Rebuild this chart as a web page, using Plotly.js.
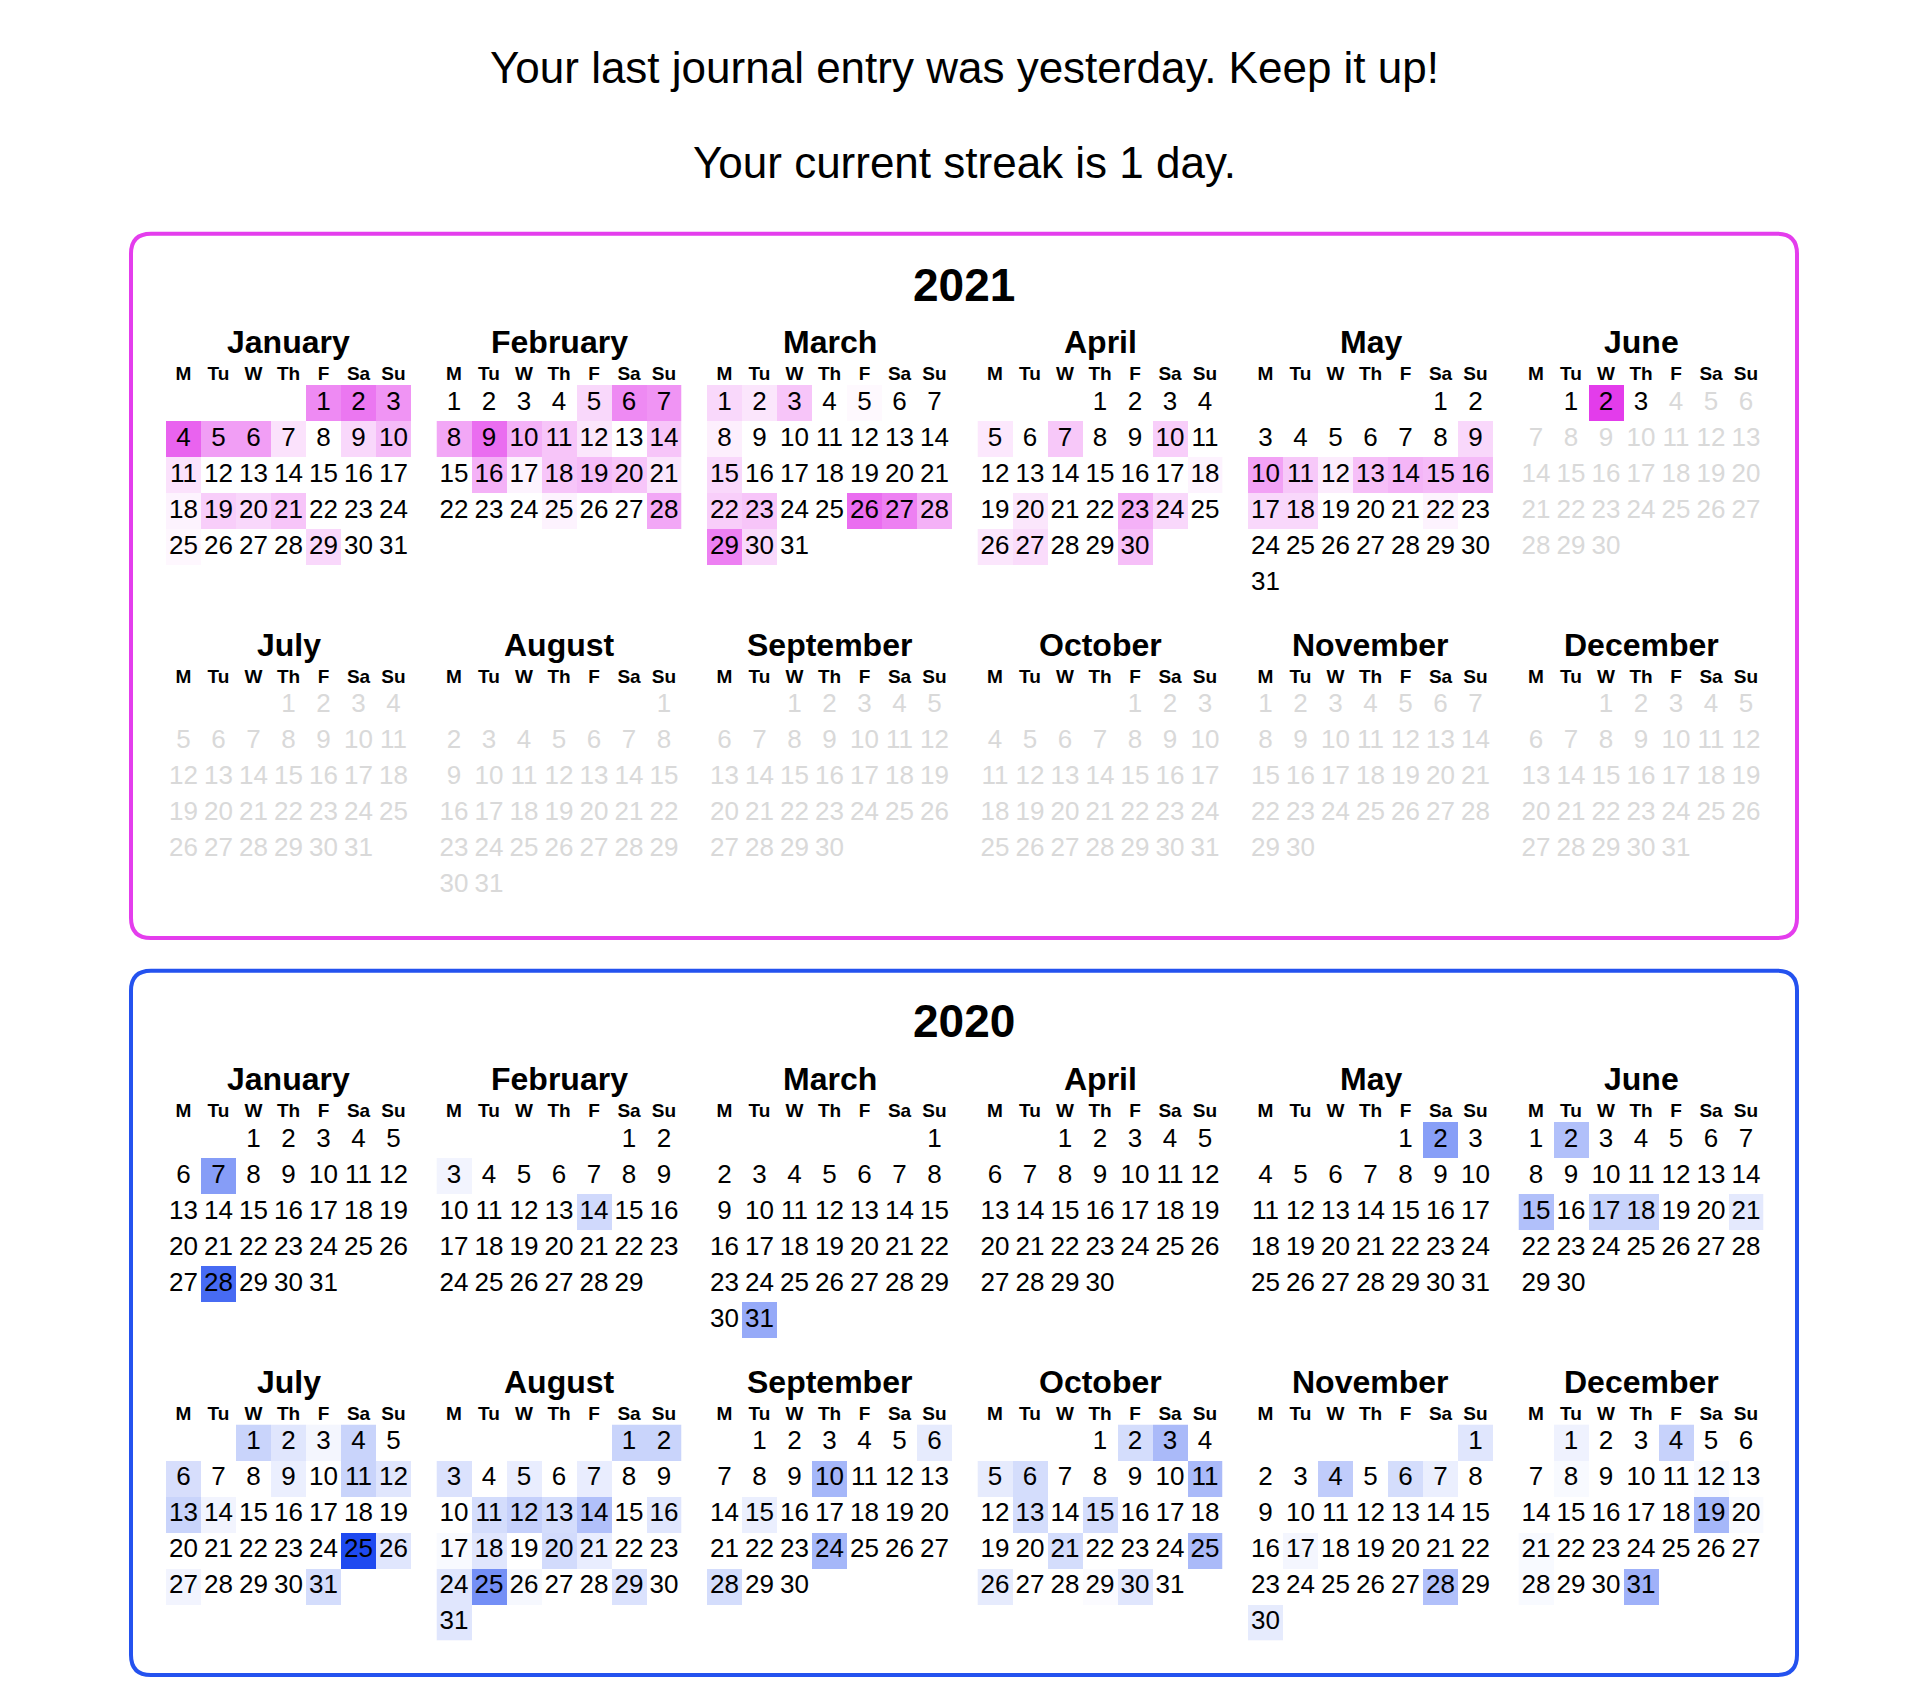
<!DOCTYPE html>
<html>
<head>
<meta charset="utf-8">
<script src="https://cdn.plot.ly/plotly-3.0.1.min.js"></script>
<style>html,body{margin:0;padding:0;background:#fff;}</style>
</head>
<body>
<div id="chart" style="width:1928px;height:1700px;"></div>
<script>
// ---------------- data ----------------
const headline = 'Your last journal entry was yesterday. Keep it up!';
const streakLine = 'Your current streak is 1 day.';
const years = [2021, 2020];
const today = [2021, 6, 3]; // days after this are shown greyed out
const monthNames = ['January','February','March','April','May','June',
                    'July','August','September','October','November','December'];
const weekdayLabels = ['M','Tu','W','Th','F','Sa','Su'];

// journal activity per day: [day, intensity 0..10], one list per month
const entries2021 = [
  [[1,6],[2,7],[3,5.5],[4,8],[5,5],[6,5],[7,1.5],[9,2],[10,3.5],[11,1.5],[18,0.6],[19,2.5],[20,2],[21,3],[25,0.4],[29,2]],
  [[5,2],[6,6],[7,5.5],[8,4.5],[9,7.5],[10,4],[11,3],[12,1.3],[14,3],[16,4],[17,0.6],[18,3],[19,3.5],[20,3],[21,1.3],[25,0.6],[28,4.5]],
  [[1,2],[2,1.3],[3,3],[5,0.3],[8,0.8],[15,2],[22,2.5],[23,3],[26,7.5],[27,6.5],[28,4],[29,6.5],[30,2]],
  [[5,1.2],[7,2.8],[10,2.5],[18,0.6],[20,1.3],[23,4],[24,2],[26,1.3],[27,1.8],[30,3.3]],
  [[9,2],[10,4.8],[11,2.8],[12,1],[13,3.3],[14,3.8],[15,3.5],[16,3.5],[17,2],[18,2],[22,0.6]],
  [[2,10]],
  [], [], [], [], [], []
];
const entries2020 = [
  [[7,5.4],[28,8.2]],
  [[3,0.6],[14,2.1]],
  [[31,4.7]],
  [],
  [[2,5.3]],
  [[2,3.5],[15,3.5],[17,2.4],[18,2.4],[21,1.2]],
  [[1,2.4],[2,1.4],[3,0.5],[4,2.4],[6,1.8],[9,0.9],[11,2.4],[12,1.4],[13,2.4],[14,0.6],[25,10],[26,1.4],[27,0.6],[31,1.9]],
  [[1,2.4],[2,2.4],[3,1.6],[5,1],[7,1],[11,1.9],[12,2.6],[13,1.9],[14,3.5],[16,1.4],[17,0.3],[18,1.4],[20,2],[21,1],[24,1.4],[25,6.2],[26,0.4],[29,1.6],[31,1.4]],
  [[6,1.1],[10,4],[15,0.9],[24,4],[28,1.9]],
  [[2,1.9],[3,3.8],[5,1.1],[6,1.9],[11,3.8],[13,1.9],[15,1.9],[21,1.9],[25,3.8],[26,1.1],[29,0.2],[30,1.4]],
  [[1,1.4],[4,2.8],[6,1.9],[7,0.9],[17,0.5],[28,3.5],[30,1.1]],
  [[1,0.7],[4,2.5],[8,0.3],[12,0.3],[19,4],[20,0.3],[21,0.3],[28,0.3],[31,4.3]]
];
const yearEntries = [entries2021, entries2020];

// ---------------- styling / layout ----------------
const W = 1928, H = 1700;
const FONT = 'Liberation Sans, Arial, Helvetica, sans-serif';
const yearColor = ['#e33ceb', '#1f4af0'];
const boxColor = ['#e43ded', '#2452ef'];
const gridLeft = 166, monthDX = 270.5, cellW = 35, cellH = 36, monthDY = 302.5;
const firstCellTop = [385, 1122];
const boxLeft = 131, boxRight = 1797, boxTopOff = -151.3, boxBottomOff = 553, boxR = 20;

const px = x => x / W;
const py = y => 1 - y / H;

function isFuture(y, m, d) {
  const a = y * 10000 + (m + 1) * 100 + d;
  const t = today[0] * 10000 + today[1] * 100 + today[2];
  return a > t;
}

function roundedRect(x0, y0, x1, y1, r) {
  const P = (x, y) => px(x).toFixed(6) + ',' + py(y).toFixed(6);
  return 'M' + P(x0 + r, y0) + ' L' + P(x1 - r, y0) + ' Q' + P(x1, y0) + ' ' + P(x1, y0 + r) +
         ' L' + P(x1, y1 - r) + ' Q' + P(x1, y1) + ' ' + P(x1 - r, y1) +
         ' L' + P(x0 + r, y1) + ' Q' + P(x0, y1) + ' ' + P(x0, y1 - r) +
         ' L' + P(x0, y0 + r) + ' Q' + P(x0, y0) + ' ' + P(x0 + r, y0) + ' Z';
}

const traces = [];
const layout = {
  width: W, height: H,
  margin: {l: 0, r: 0, t: 0, b: 0},
  paper_bgcolor: '#ffffff', plot_bgcolor: 'rgba(0,0,0,0)',
  showlegend: false,
  annotations: [], shapes: []
};

layout.annotations.push({text: headline, xref: 'paper', yref: 'paper', x: px(964), y: py(67.8),
  xanchor: 'center', yanchor: 'middle', showarrow: false, font: {family: FONT, size: 44, color: '#000'}});
layout.annotations.push({text: streakLine, xref: 'paper', yref: 'paper', x: px(964), y: py(162.5),
  xanchor: 'center', yanchor: 'middle', showarrow: false, font: {family: FONT, size: 44, color: '#000'}});

let idx = 0;
years.forEach((year, yi) => {
  const top0 = firstCellTop[yi];
  const entries = yearEntries[yi];
  // box
  layout.shapes.push({type: 'path', xref: 'paper', yref: 'paper',
    path: roundedRect(boxLeft, top0 + boxTopOff, boxRight, top0 + boxBottomOff, boxR),
    line: {color: boxColor[yi], width: 4}, fillcolor: 'rgba(0,0,0,0)', layer: 'below'});
  // year title
  layout.annotations.push({text: '<b>' + year + '</b>', xref: 'paper', yref: 'paper', x: px(964), y: py(top0 - 100.5),
    xanchor: 'center', yanchor: 'middle', showarrow: false, font: {family: FONT, size: 46, color: '#000'}});

  for (let m = 0; m < 12; m++) {
    idx++;
    const ax = idx === 1 ? '' : String(idx);
    const left = gridLeft + (m % 6) * monthDX;
    const top = top0 + Math.floor(m / 6) * monthDY;
    const first = (new Date(Date.UTC(year, m, 1)).getUTCDay() + 6) % 7;
    const nDays = new Date(Date.UTC(year, m + 1, 0)).getUTCDate();
    const vals = new Map(entries[m]);
    const z = Array.from({length: 6}, () => Array(7).fill(null));
    const xs = [], ys = [], txt = [], cols = [];
    for (let d = 1; d <= nDays; d++) {
      const k = first + d - 1, c = k % 7, r = Math.floor(k / 7);
      if (vals.has(d)) z[r][c] = vals.get(d);
      xs.push(c); ys.push(r); txt.push(String(d));
      cols.push(isFuture(year, m, d) ? '#d9d9d9' : '#000000');
    }
    if (entries[m].length) {
      traces.push({type: 'heatmap', x: [0,1,2,3,4,5,6], y: [0,1,2,3,4,5], z: z,
        zmin: 0, zmax: 10, colorscale: [[0, '#ffffff'], [1, yearColor[yi]]],
        showscale: false, xgap: 0, ygap: 0, hoverinfo: 'skip',
        xaxis: 'x' + ax, yaxis: 'y' + ax});
    }
    traces.push({type: 'scatter', mode: 'text', x: xs, y: ys, text: txt,
      textposition: 'middle center', textfont: {family: FONT, size: 26, color: cols},
      cliponaxis: false, hoverinfo: 'skip', xaxis: 'x' + ax, yaxis: 'y' + ax});

    layout['xaxis' + ax] = {
      domain: [px(left), px(left + 7 * cellW)], range: [-0.5, 6.5], anchor: 'y' + ax,
      side: 'top', tickmode: 'array', tickvals: [0,1,2,3,4,5,6], ticktext: weekdayLabels,
      tickfont: {family: FONT, size: 19, color: '#000', weight: 'bold'},
      ticks: '', showgrid: false, zeroline: false, showline: false, fixedrange: true
    };
    layout['yaxis' + ax] = {
      domain: [py(top + 6 * cellH), py(top)], range: [5.5, -0.5], anchor: 'x' + ax,
      showticklabels: false, ticks: '', showgrid: false, zeroline: false, showline: false, fixedrange: true
    };
    layout.annotations.push({text: '<b>' + monthNames[m] + '</b>', xref: 'paper', yref: 'paper',
      x: px(left + 3.5 * cellW), y: py(top - 42.8), xanchor: 'center', yanchor: 'middle',
      showarrow: false, font: {family: FONT, size: 32, color: '#000'}});
  }
});

Plotly.newPlot('chart', traces, layout, {displayModeBar: false, staticPlot: true});
</script>
</body>
</html>
